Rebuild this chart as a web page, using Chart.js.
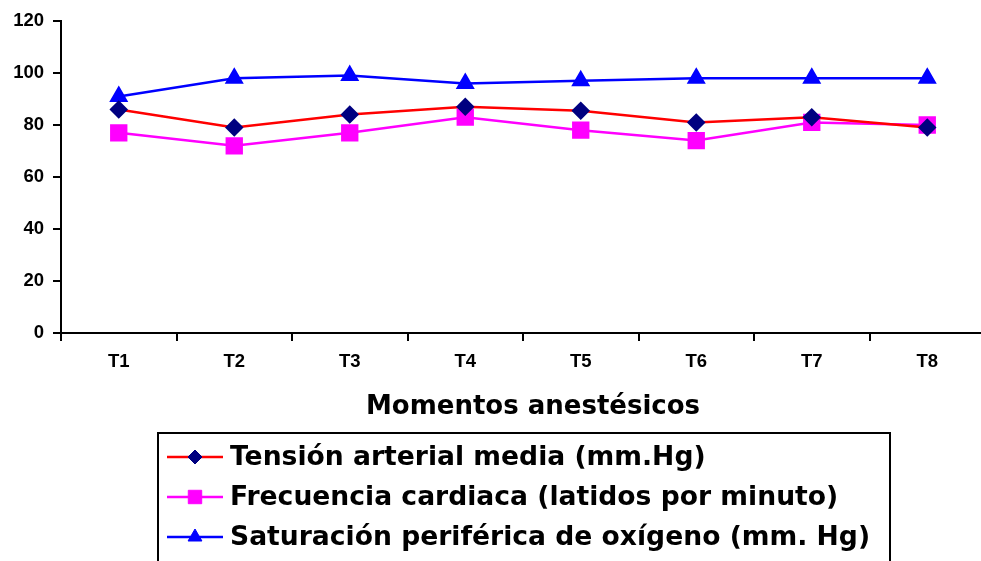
<!DOCTYPE html>
<html>
<head>
<meta charset="utf-8">
<script src="https://cdn.jsdelivr.net/npm/chart.js@4.4.1/dist/chart.umd.min.js"></script>
<style>
  html, body { margin: 0; padding: 0; background: #fff; }
  #wrap { width: 981px; height: 561px; position: relative; overflow: hidden; }
</style>
</head>
<body>
<div id="wrap"><canvas id="chart" width="998" height="561"></canvas></div>
<script>
// Valores
const momentos = ['T1', 'T2', 'T3', 'T4', 'T5', 'T6', 'T7', 'T8'];
const tensionArterial = [86, 79, 84, 87, 85.5, 81, 83, 79];
const frecuenciaCardiaca = [77, 72, 77, 83, 78, 74, 81, 80];
const saturacionOxigeno = [91, 98, 99, 96, 97, 98, 98, 98];
const yTicks = [0, 20, 40, 60, 80, 100, 120];
const tituloX = 'Momentos anestésicos';

const tickFont = { family: 'Liberation Sans, Arial, sans-serif', size: 18.5, weight: 'bold' };
const bigFamily = '"DejaVu Sans", Verdana, sans-serif';

// Título del eje X y leyenda con recuadro, dibujados a mano
const boxedLegend = {
    id: 'boxedLegend',
    afterDraw(chart) {
        const ctx = chart.ctx;
        const rows = [457, 497, 537];
        ctx.save();
        ctx.fillStyle = '#000';
        ctx.font = 'bold 26px ' + bigFamily;
        ctx.textAlign = 'center';
        ctx.textBaseline = 'middle';
        ctx.fillText(tituloX, 533, 407);

        ctx.textAlign = 'left';
        ctx.strokeStyle = '#000';
        ctx.lineWidth = 2;
        ctx.strokeRect(158, 433, 732, 140);
        ctx.font = 'bold 26.6px ' + bigFamily;
        chart.data.datasets.forEach((ds, i) => {
            const y = rows[i];
            ctx.strokeStyle = ds.borderColor;
            ctx.lineWidth = 2.5;
            ctx.beginPath();
            ctx.moveTo(167, y);
            ctx.lineTo(223, y);
            ctx.stroke();
            ctx.fillStyle = ds.pointBackgroundColor;
            ctx.strokeStyle = ds.pointBorderColor;
            ctx.lineWidth = 1;
            Chart.helpers.drawPoint(ctx, {
                pointStyle: ds.pointStyle,
                radius: ds.legendRadius,
                borderWidth: 1
            }, 195, y);
            ctx.fillStyle = '#000';
            ctx.fillText(ds.label, 230, y + 1);
        });
        ctx.restore();
    }
};

new Chart(document.getElementById('chart'), {
    type: 'line',
    data: {
        labels: momentos,
        datasets: [
            {
                label: 'Tensión arterial media (mm.Hg)',
                data: tensionArterial,
                borderColor: '#FF0000',
                borderWidth: 2.5,
                pointStyle: 'rectRot',
                pointRadius: 7.5,
                legendRadius: 7,
                pointBackgroundColor: '#000080',
                pointBorderColor: '#000080',
                tension: 0
            },
            {
                label: 'Frecuencia cardiaca (latidos por minuto)',
                data: frecuenciaCardiaca,
                borderColor: '#FF00FF',
                borderWidth: 2.5,
                pointStyle: 'rect',
                pointRadius: 10.5,
                legendRadius: 9.5,
                pointBackgroundColor: '#FF00FF',
                pointBorderColor: '#FF00FF',
                tension: 0
            },
            {
                label: 'Saturación periférica de oxígeno (mm. Hg)',
                data: saturacionOxigeno,
                borderColor: '#0000FF',
                borderWidth: 2.5,
                pointStyle: 'triangle',
                pointRadius: 8.5,
                legendRadius: 8,
                pointBackgroundColor: '#0000FF',
                pointBorderColor: '#0000FF',
                tension: 0
            }
        ]
    },
    options: {
        responsive: false,
        animation: false,
        layout: { padding: { left: 0, top: 21, right: 0, bottom: 138 } },
        plugins: {
            legend: { display: false },
            tooltip: { enabled: false }
        },
        scales: {
            x: {
                offset: true,
                grid: {
                    offset: true,
                    drawOnChartArea: false,
                    drawTicks: true,
                    tickLength: 8,
                    color: '#000',
                    lineWidth: 2
                },
                border: { color: '#000', width: 2 },
                ticks: { color: '#000', font: tickFont, padding: 10 },
                afterFit(scale) { scale.height = 90; }
            },
            y: {
                min: 0,
                max: 120,
                afterBuildTicks(scale) { scale.ticks = yTicks.map(v => ({ value: v })); },
                grid: {
                    drawOnChartArea: false,
                    drawTicks: true,
                    tickLength: 8,
                    color: '#000',
                    lineWidth: 2
                },
                border: { color: '#000', width: 2 },
                ticks: { color: '#000', font: tickFont, padding: 9 },
                afterFit(scale) { scale.width = 61; }
            }
        }
    },
    plugins: [boxedLegend]
});
</script>
</body>
</html>
